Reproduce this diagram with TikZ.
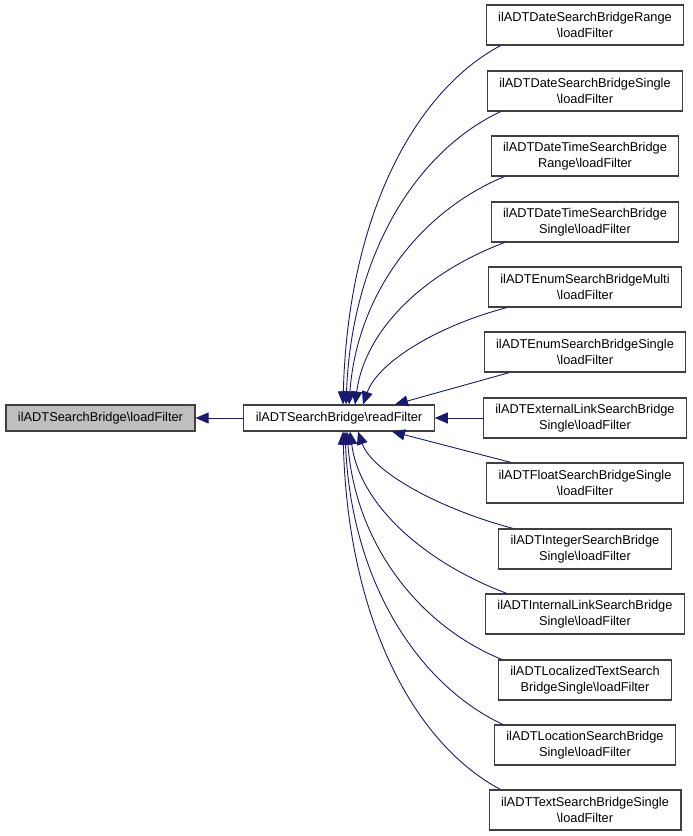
\documentclass[tikz,border=0pt]{standalone}
\usepackage{fontspec}
\setmainfont{Liberation Sans}
\usetikzlibrary{arrows.meta}
\definecolor{edgeblue}{HTML}{191970}
\definecolor{boxgray}{HTML}{BFBFBF}
\newcommand{\bs}{\textbackslash}
\begin{document}
\begin{tikzpicture}[x=1pt, y=1pt,
    fn/.style = {draw = black!75, line width = 1.1pt, fill = white, align = center,
      font = \fontsize{12.8}{15.5}\selectfont, inner xsep = 12pt, inner ysep = 1pt},
    fnone/.style = {fn, minimum height = 26pt},
    fntwo/.style = {fn, minimum height = 40pt},
    call/.style = {draw = edgeblue, line width = 0.9pt, -{Triangle[length = 13pt, width = 11pt]}}]
  \useasboundingbox (0, 0) rectangle (693, -836);
  % callers of readFilter
  \node[fntwo] (b1) at (585, -25) {ilADTDateSearchBridgeRange\\\bs loadFilter};
  \node[fntwo] (b2) at (585, -91) {ilADTDateSearchBridgeSingle\\\bs loadFilter};
  \node[fntwo] (b3) at (585, -156) {ilADTDateTimeSearchBridge\\Range\bs loadFilter};
  \node[fntwo] (b4) at (585, -222) {ilADTDateTimeSearchBridge\\Single\bs loadFilter};
  \node[fntwo] (b5) at (585, -287) {ilADTEnumSearchBridgeMulti\\\bs loadFilter};
  \node[fntwo] (b6) at (585, -352) {ilADTEnumSearchBridgeSingle\\\bs loadFilter};
  \node[fntwo] (b7) at (585, -418) {ilADTExternalLinkSearchBridge\\Single\bs loadFilter};
  \node[fntwo] (b8) at (585, -483) {ilADTFloatSearchBridgeSingle\\\bs loadFilter};
  \node[fntwo] (b9) at (585, -549) {ilADTIntegerSearchBridge\\Single\bs loadFilter};
  \node[fntwo] (b10) at (585, -614) {ilADTInternalLinkSearchBridge\\Single\bs loadFilter};
  \node[fntwo] (b11) at (585, -680) {ilADTLocalizedTextSearch\\BridgeSingle\bs loadFilter};
  \node[fntwo] (b12) at (585, -745) {ilADTLocationSearchBridge\\Single\bs loadFilter};
  \node[fntwo] (b13) at (585, -810) {ilADTTextSearchBridgeSingle\\\bs loadFilter};
  % the two on the left
  \node[fnone] (read) at (339, -418) {ilADTSearchBridge\bs readFilter};
  \node[fnone, fill = boxgray] (load) at (100.5, -418) {ilADTSearchBridge\bs loadFilter};
  % edges
  \draw[call] (read) -- (load);
  \draw[call] ([xshift = 15]b1.south west) .. controls +(-85, -45) and +(5, 190) .. ([xshift = 4]read.north);
  \draw[call] ([xshift = 14]b2.south west) .. controls +(-85, -40) and +(6, 150) .. ([xshift = 7]read.north);
  \draw[call] ([xshift = 14]b3.south west) .. controls +(-85, -35) and +(8, 110) .. ([xshift = 10]read.north);
  \draw[call] ([xshift = 14]b4.south west) .. controls +(-80, -30) and +(10, 75) .. ([xshift = 16]read.north);
  \draw[call] ([xshift = 19]b5.south west) .. controls +(-75, -20) and +(14, 40) .. ([xshift = 24]read.north);
  \draw[call] ([xshift = 26]b6.south west) -- ([xshift = 56]read.north);
  \draw[call] (b7) -- (read);
  \draw[call] ([xshift = 25]b8.north west) -- ([xshift = 53]read.south);
  \draw[call] ([xshift = 15]b9.north west) .. controls +(-75, 20) and +(14, -40) .. ([xshift = 19]read.south);
  \draw[call] ([xshift = 22]b10.north west) .. controls +(-80, 30) and +(10, -75) .. ([xshift = 11]read.south);
  \draw[call] ([xshift = 4]b11.north west) .. controls +(-85, 35) and +(8, -110) .. ([xshift = 8]read.south);
  \draw[call] ([xshift = 9]b12.north west) .. controls +(-85, 40) and +(6, -150) .. ([xshift = 6]read.south);
  \draw[call] ([xshift = 12]b13.north west) .. controls +(-85, 45) and +(5, -190) .. ([xshift = 4]read.south);
\end{tikzpicture}
\end{document}
